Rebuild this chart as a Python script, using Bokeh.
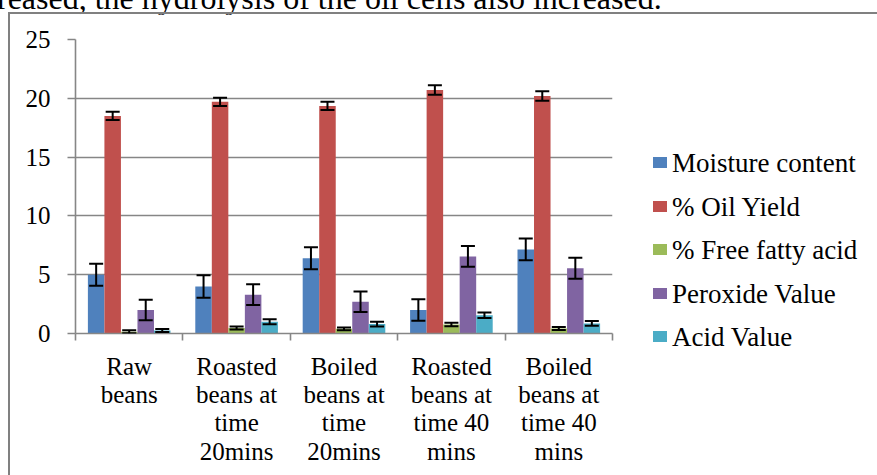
from bokeh.plotting import figure
from bokeh.layouts import row, column
from bokeh.models import (ColumnDataSource, FixedTicker, LinearAxis, Whisker, TeeHead,
                          Range1d, Div)
from bokeh.embed import file_html
from bokeh.resources import INLINE

caption = "reased, the hydrolysis of the oil cells also increased."
categories = ["Raw\nbeans", "Roasted\nbeans at\ntime\n20mins", "Boiled\nbeans at\ntime\n20mins",
              "Roasted\nbeans at\ntime 40\nmins", "Boiled\nbeans at\ntime 40\nmins"]
series = ["Moisture content", "% Oil Yield", "% Free fatty acid", "Peroxide Value", "Acid Value"]

moisture = [5.0, 4.0, 6.4, 2.0, 7.15]
moisture_err = [0.93, 0.95, 0.93, 0.92, 0.93]
oil_yield = [18.5, 19.7, 19.35, 20.7, 20.2]
oil_yield_err = [0.35, 0.35, 0.35, 0.4, 0.4]
free_fatty_acid = [0.15, 0.47, 0.4, 0.77, 0.42]
free_fatty_acid_err = [0.12, 0.12, 0.12, 0.15, 0.13]
peroxide = [2.0, 3.3, 2.7, 6.55, 5.55]
peroxide_err = [0.88, 0.88, 0.87, 0.88, 0.9]
acid = [0.25, 1.0, 0.8, 1.55, 0.86]
acid_err = [0.13, 0.22, 0.2, 0.23, 0.21]

values = [moisture, oil_yield, free_fatty_acid, peroxide, acid]
errors = [moisture_err, oil_yield_err, free_fatty_acid_err, peroxide_err, acid_err]
colors = ["#4F81BD", "#C0504D", "#9BBB59", "#8064A2", "#4BACC6"]
y_ticks = [0, 5, 10, 15, 20, 25]

FONT = "Liberation Serif"
GRAY = "#868686"
H = 461

n = len(categories)
p = figure(width=607, height=H, output_backend="svg", toolbar_location=None,
           x_range=Range1d(0, n), y_range=Range1d(0, 25),
           min_border_left=65, min_border_top=25, min_border_right=5, min_border_bottom=142,
           x_axis_type=None)
p.outline_line_color = None
p.xgrid.visible = False
p.ygrid.grid_line_color = GRAY
p.ygrid.grid_line_width = 1.6
p.ygrid.ticker = FixedTicker(ticks=y_ticks)

yax = p.yaxis[0]
yax.ticker = FixedTicker(ticks=y_ticks)
yax.axis_line_color = GRAY
yax.axis_line_width = 1.6
yax.major_tick_line_color = GRAY
yax.major_tick_line_width = 1.6
yax.major_tick_out = 8
yax.major_tick_in = 0
yax.minor_tick_line_color = None
yax.major_label_standoff = 17
yax.major_label_text_font = FONT
yax.major_label_text_font_size = "25px"
yax.major_label_text_color = "black"

xax = LinearAxis(ticker=FixedTicker(ticks=list(range(n + 1))))
xax.axis_line_color = GRAY
xax.axis_line_width = 1.6
xax.major_tick_line_color = GRAY
xax.major_tick_line_width = 1.6
xax.major_tick_out = 7
xax.major_tick_in = 0
xax.minor_tick_line_color = None
xax.major_label_text_font_size = "0px"
xax.major_label_standoff = 0
xax.major_label_overrides = {i: "" for i in range(n + 1)}
p.add_layout(xax, "below")

centers = [i + 0.5 for i in range(n)]
lab = LinearAxis(ticker=FixedTicker(ticks=centers))
lab.major_label_overrides = {c: t for c, t in zip(centers, categories)}
lab.axis_line_color = None
lab.major_tick_line_color = None
lab.minor_tick_line_color = None
lab.major_label_standoff = 6
lab.major_label_text_font = FONT
lab.major_label_text_font_size = "25px"
lab.major_label_text_line_height = 1.05
lab.major_label_text_color = "black"
p.add_layout(lab, "below")

w = 1.0 / (len(series) + 1.5)
for k, (vals, errs, col) in enumerate(zip(values, errors, colors)):
    xs = [c + (k - 2) * w for c in centers]
    src = ColumnDataSource(dict(x=xs, top=vals,
                                upper=[v + e for v, e in zip(vals, errs)],
                                lower=[v - e for v, e in zip(vals, errs)]))
    p.vbar(x="x", top="top", bottom=0, width=w, source=src,
           fill_color=col, line_color=None, legend_label=series[k])
    wh = Whisker(base="x", upper="upper", lower="lower", source=src, dimension="height",
                 line_color="black", line_width=2, level="overlay",
                 upper_head=TeeHead(size=14, line_color="black", line_width=2),
                 lower_head=TeeHead(size=14, line_color="black", line_width=2))
    p.add_layout(wh)
p.legend.visible = False

# legend (HTML panel to the right of the plot)
entries = []
for i, (name, col) in enumerate(zip(series, colors)):
    top = 134 + i * 43.5
    entries.append(
        f'<div style="position:absolute;left:36px;top:{top}px;height:30px;line-height:30px;'
        f'white-space:nowrap;">'
        f'<span style="display:inline-block;width:14px;height:11px;background:{col};'
        f'margin-right:5px;vertical-align:4px;"></span>{name}</div>')
legend_html = (f'<div style="position:relative;width:260px;height:{H}px;'
               f'font-family:\'{FONT}\';font-size:27px;color:black;">'
               + "".join(entries) + '</div>')
leg = Div(text=legend_html, width=260, height=H, margin=0)

chart = row(p, leg, spacing=0)
chart.styles = {"border-left": "2px solid #808080", "border-top": "2px solid #808080",
                "margin-left": "8px"}

cap_html = (f'<div style="position:relative;width:877px;height:12px;">'
            f'<div style="position:absolute;left:-3px;top:-20px;white-space:nowrap;'
            f'font-family:\'{FONT}\';font-size:32px;line-height:36px;color:black;">'
            f'{caption}</div></div>')
cap = Div(text=cap_html, width=877, height=12, margin=0)

layout = column(cap, chart, spacing=0)

open("out.html", "w").write(file_html(layout, INLINE))
